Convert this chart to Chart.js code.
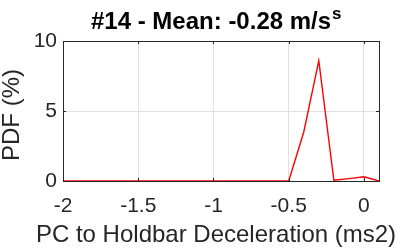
<!DOCTYPE html>
<html><head><meta charset="utf-8">
<script src="https://cdn.jsdelivr.net/npm/chart.js@4"></script>
<style>html,body{margin:0;padding:0;background:#fff}#wrap{width:409px;height:250px}</style>
</head><body><div id="wrap"><canvas id="c" width="409" height="250"></canvas></div>
<script>
const xValues = [-2,-1.9,-1.8,-1.7,-1.6,-1.5,-1.4,-1.3,-1.2,-1.1,-1,-0.9,-0.8,-0.7,-0.6,-0.5,-0.4,-0.3,-0.2,-0.1,0,0.1];
const pdfValues = [0,0,0,0,0,0,0,0,0,0,0,0,0,0,0,0,3.5,8.6,0.05,0.17,0.3,0];
const xTicks = [-2,-1.5,-1,-0.5,0];
const yTicks = [0,5,10];
const titleMain = '#14 - Mean: -0.28 m/s';
const titleSup = 's';
const xTitle = 'PC to Holdbar Deceleration (ms2)';
const yTitle = 'PDF (%)';

const FONT = '"Liberation Sans", Arial, Helvetica, sans-serif';
const TXT = '#262626';

const deco = {
  id: 'deco',
  afterDraw(chart) {
    const {ctx, chartArea: a, scales} = chart;
    ctx.save();
    ctx.strokeStyle = '#262626';
    ctx.lineWidth = 1;
    ctx.strokeRect(Math.round(a.left)+0.5, Math.round(a.top)+0.5, Math.round(a.right-a.left), Math.round(a.bottom-a.top));
    const tl = 3;
    ctx.beginPath();
    xTicks.forEach(v => {
      const x = Math.round(scales.x.getPixelForValue(v)) + 0.5;
      ctx.moveTo(x, a.bottom); ctx.lineTo(x, a.bottom - tl);
      ctx.moveTo(x, a.top); ctx.lineTo(x, a.top + tl);
    });
    yTicks.forEach(v => {
      const y = Math.round(scales.y.getPixelForValue(v)) + 0.5;
      ctx.moveTo(a.left, y); ctx.lineTo(a.left + tl, y);
      ctx.moveTo(a.right, y); ctx.lineTo(a.right - tl, y);
    });
    ctx.stroke();
    // title
    ctx.fillStyle = '#000';
    ctx.textBaseline = 'alphabetic';
    ctx.textAlign = 'left';
    ctx.font = 'bold 24px ' + FONT;
    const w = ctx.measureText(titleMain).width;
    const x0 = 91;
    ctx.fillText(titleMain, x0, 29);
    ctx.font = 'bold 17px ' + FONT;
    ctx.fillText(titleSup, x0 + w + 1, 19);
    // axis titles
    ctx.fillStyle = TXT;
    ctx.font = '24px ' + FONT;
    ctx.textAlign = 'center';
    ctx.fillText(xTitle, 216, 242);
    ctx.save();
    ctx.translate(19, 115);
    ctx.rotate(-Math.PI / 2);
    ctx.fillText(yTitle, 0, 0);
    ctx.restore();
    ctx.restore();
  }
};

new Chart(document.getElementById('c'), {
  type: 'scatter',
  data: {
    datasets: [{
      data: xValues.map((x, i) => ({x, y: pdfValues[i]})),
      showLine: true,
      borderColor: '#ff0000',
      borderWidth: 1.4,
      pointRadius: 0,
      tension: 0
    }]
  },
  options: {
    responsive: false,
    animation: false,
    events: [],
    layout: {padding: {left: 0, right: 30, top: 41, bottom: 0}},
    plugins: {legend: {display: false}, tooltip: {enabled: false}, title: {display: false}},
    scales: {
      x: {
        type: 'linear', min: -2, max: 0.1,
        afterBuildTicks: s => { s.ticks = xTicks.map(v => ({value: v})); },
        afterFit: s => { s.height = 69; },
        grid: {color: '#e0e0e0', drawTicks: false},
        border: {display: false},
        ticks: {color: TXT, font: {family: FONT, size: 21}, padding: 13, maxRotation: 0, callback: v => String(v)}
      },
      y: {
        type: 'linear', min: 0, max: 10,
        afterBuildTicks: s => { s.ticks = yTicks.map(v => ({value: v})); },
        afterFit: s => { s.width = 63; },
        grid: {color: '#e0e0e0', drawTicks: false},
        border: {display: false},
        ticks: {color: TXT, font: {family: FONT, size: 21}, padding: 6, callback: v => String(v)}
      }
    }
  },
  plugins: [deco]
});
</script></body></html>
